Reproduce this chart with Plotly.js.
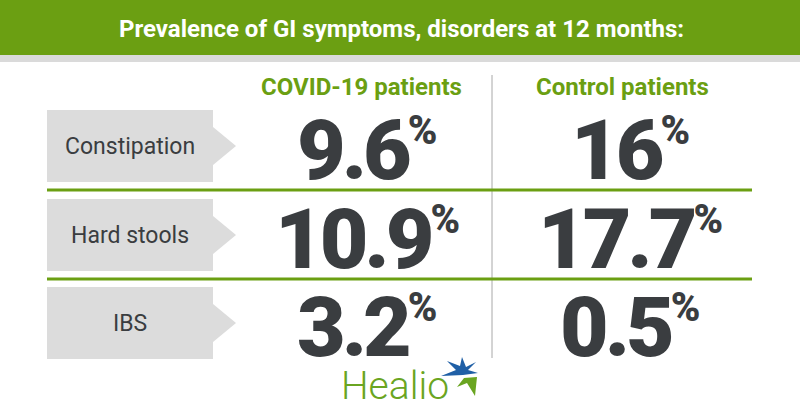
<!DOCTYPE html>
<html>
<head>
<meta charset="utf-8">
<script src="https://cdn.plot.ly/plotly-3.0.1.min.js"></script>
<style>
  html, body { margin: 0; padding: 0; background: #fff; }
  #grafico { width: 800px; height: 420px; }
</style>
</head>
<body>
<div id="grafico"></div>
<script>
// dados do gráfico
const titulo = 'Prevalence of GI symptoms, disorders at 12 months:'
const grupos = ['COVID-19 patients', 'Control patients']
const sintomas = ['Constipation', 'Hard stools', 'IBS']
const covid = [9.6, 10.9, 3.2]
const controle = [16, 17.7, 0.5]

// posições (em pixels, eixo y invertido)
const verde = '#6b9f12'
const cinzaTexto = '#3a3d40'
const colX = [367, 630]
const rowY = [146, 235, 323]
const boxL = 47, boxR = 213, tipX = 236, halfH = 36

const shapes = []
const annotations = []

// faixa verde do título e faixa cinza logo abaixo
shapes.push({ type: 'rect', x0: 0, x1: 800, y0: 0, y1: 55, fillcolor: verde, line: { width: 0 } })
shapes.push({ type: 'rect', x0: 0, x1: 800, y0: 55, y1: 62, fillcolor: '#dadada', line: { width: 0 } })

annotations.push({
  x: 401, y: 29, text: titulo, showarrow: false,
  font: { family: 'Liberation Sans Narrow, Roboto, sans-serif', size: 24, color: '#fff', weight: 'bold' }
})

// divisor vertical
shapes.push({ type: 'line', x0: 492, x1: 492, y0: 75, y1: 358, line: { color: '#a8a8a8', width: 1 } })

// cabeçalhos das colunas
grupos.forEach((g, i) => {
  annotations.push({
    x: colX[i] - (i === 0 ? 6 : 8), y: 87, text: g, showarrow: false,
    font: { family: 'Roboto, sans-serif', size: 24, color: verde, weight: 'bold' }
  })
})

// linhas de sintomas
sintomas.forEach((s, r) => {
  const yc = rowY[r]
  const y0 = yc - halfH, y1 = yc + halfH
  shapes.push({
    type: 'path',
    path: `M${boxL},${y0} L${boxR},${y0} L${boxR},${yc - 19} L${tipX},${yc} L${boxR},${yc + 19} L${boxR},${y1} L${boxL},${y1} Z`,
    fillcolor: '#dcdcdc', line: { width: 0 }
  })
  annotations.push({
    x: 130, y: yc, text: s, showarrow: false,
    font: { family: 'Roboto, sans-serif', size: 23, color: cinzaTexto }
  })
  if (r < sintomas.length - 1) {
    shapes.push({ type: 'line', x0: boxL, x1: 752, y0: yc + 44, y1: yc + 44, line: { color: verde, width: 3 } })
  }
  ;[covid[r], controle[r]].forEach((v, c) => {
    annotations.push({
      x: colX[c], y: yc + 4, showarrow: false,
      text: '<span style="letter-spacing:-4px">' + String(v) + '</span>' +
        '<sup><span style="font-size:40px">%</span></sup>',
      font: { family: 'Roboto, sans-serif', size: 84, color: cinzaTexto, weight: 900 }
    })
  })
})

// logo Healio
annotations.push({
  x: 395, y: 386, text: 'Healio', showarrow: false,
  font: { family: 'Roboto, sans-serif', size: 39, color: '#6aa521', weight: 300 }
})
shapes.push({
  type: 'path',
  path: 'M441,376 L456,370 L447,361 L460,366 L462,357 L466,367 L476,362 L468,370 L478,373 L463,375 Z',
  fillcolor: '#1f5fa6', line: { width: 0 }
})
shapes.push({
  type: 'path',
  path: 'M464,378 L477,377 L475,396 L467,383 L457,387 Z',
  fillcolor: '#6aa521', line: { width: 0 }
})

const layout = {
  width: 800, height: 420,
  margin: { l: 0, r: 0, t: 0, b: 0 },
  paper_bgcolor: '#fff', plot_bgcolor: '#fff',
  xaxis: { range: [0, 800], visible: false, fixedrange: true },
  yaxis: { range: [420, 0], visible: false, fixedrange: true },
  showlegend: false,
  shapes: shapes,
  annotations: annotations
}

Plotly.newPlot('grafico', [], layout, { staticPlot: true })
</script>
</body>
</html>
